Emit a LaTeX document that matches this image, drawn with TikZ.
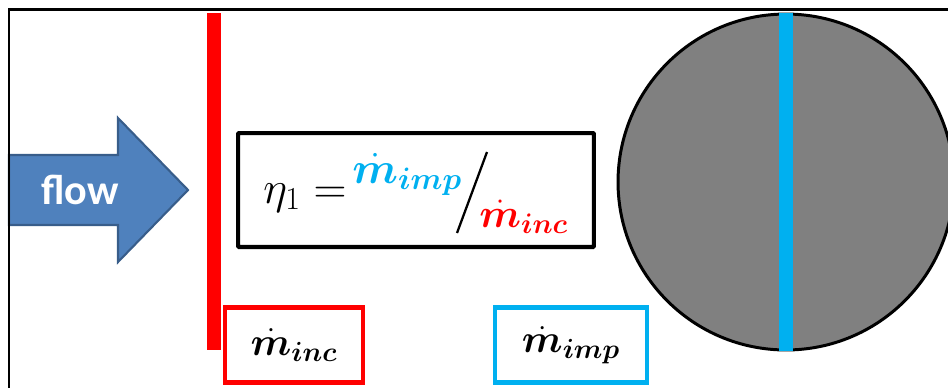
\RequirePackage{fix-cm}
\documentclass[tikz,border=0pt]{standalone}
\usepackage{amsmath}
\usepackage{bm}
\usepackage{fontspec}
\newfontfamily\flowfont{Carlito}
\usetikzlibrary{positioning, arrows.meta}

\definecolor{flowblue}{HTML}{4F81BD}
\definecolor{flowedge}{HTML}{385D8A}
\definecolor{impcyan}{HTML}{00B0F0}
\definecolor{incred}{HTML}{FF0000}
\definecolor{discgray}{HTML}{808080}

\begin{document}
\begin{tikzpicture}[
        x=0.02cm, y=-0.02cm,
        flowarrow/.style={fill=flowblue, draw=flowedge, line width=1.2pt, line join=miter},
        flowtext/.style={text=white, font=\flowfont\bfseries\fontsize{24}{28}\selectfont},
        eqbox/.style={draw, line width=2.3pt, minimum width=7.12cm, minimum height=2.28cm, rounded corners=0.5pt},
        massbox/.style={draw, line width=2.6pt, minimum height=1.5cm, inner sep=0pt,
            font=\fontsize{22.5}{27}\selectfont},
        eqtext/.style={inner sep=0pt, font=\fontsize{26}{31}\selectfont}
    ]
        \useasboundingbox (0,0) rectangle (948,387);
        \clip (0,0) rectangle (948,387);

        % incoming flow
        \draw[flowarrow] (9,155) -- (118,155) -- (118,118) -- (188,190)
            -- (118,262) -- (118,225) -- (9,225) -- cycle;
        \node[flowtext] (flow) at (80,190) {flow};

        % frame
        \draw[line width=1.7pt] (9,400) -- (9,9) -- (960,9);

        % red plane
        \draw[incred, line width=8pt] (214,13) -- (214,350);

        % particle
        \node[draw, circle, fill=discgray, line width=1.7pt, minimum size=6.72cm, inner sep=0pt] (disc) at (786,182) {};
        \draw[impcyan, line width=8pt] (disc.north) -- (disc.south);

        % efficiency
        \node[eqbox] (eq) at (416,190) {};
        \node[eqtext, anchor=base west] (eta) at (263,203) {$\eta_1=$};
        \node[eqtext, anchor=base west, text=impcyan, font=\fontsize{25.2}{30}\selectfont] (num) at (352,183) {$\bm{\dot{m}_{imp}}$};
        \node[eqtext, anchor=base west, text=incred, font=\fontsize{23}{28}\selectfont] (den) at (479,227) {$\bm{\dot{m}_{inc}}$};
        \coordinate (slashtop) at (487,152);
        \coordinate (slashbot) at (457,233);
        \draw[line width=1.3pt] (slashtop) -- (slashbot);

        % labels
        \node[massbox, draw=incred, minimum width=2.76cm] (inc) at (294,345) {$\bm{\dot{m}_{inc}}$};
        \node[massbox, draw=impcyan, minimum width=3.04cm] (imp) at (571,345) {$\bm{\dot{m}_{imp}}$};
\end{tikzpicture}
\end{document}
